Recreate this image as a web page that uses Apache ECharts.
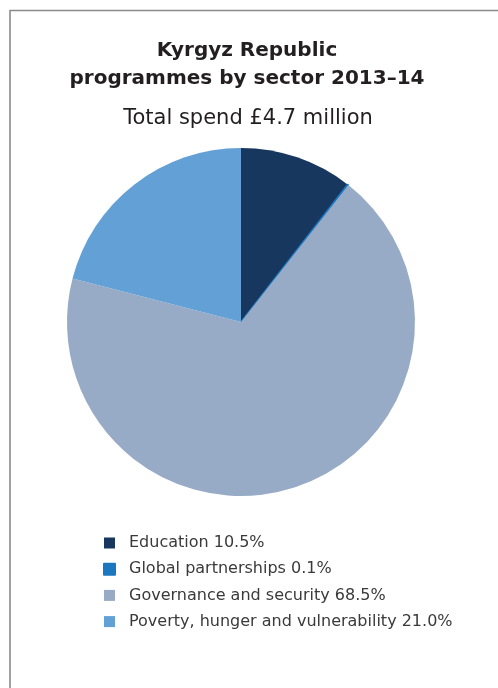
<!DOCTYPE html>
<html>
<head>
<meta charset="utf-8">
<style>
  html, body { margin: 0; padding: 0; background: #fff; }
  #chart { width: 498px; height: 688px; }
</style>
<script src="https://cdn.jsdelivr.net/npm/echarts@6/dist/echarts.min.js"></script>
</head>
<body>
<div id="chart"></div>
<script>
// Sector shares of spend (percent)
const sectors = ['Education', 'Global partnerships', 'Governance and security', 'Poverty, hunger and vulnerability'];
const shares = [10.5, 0.1, 68.5, 21.0];
const sectorColors = ['#17375e', '#1b78c0', '#98abc6', '#62a0d5'];

const titleText = 'Kyrgyz Republic\nprogrammes by sector 2013–14';
const subtitleText = 'Total spend £4.7 million';

const chart = echarts.init(document.getElementById('chart'));
const fontFamily = '"DejaVu Sans", "Liberation Sans", Arial, sans-serif';

chart.setOption({
  animation: false,
  color: sectorColors,
  title: [
    {
      text: titleText,
      left: 242,
      textAlign: 'center',
      top: 32,
      textStyle: { fontFamily, fontSize: 20, fontWeight: 'bold', color: '#231f20', lineHeight: 28 }
    },
    {
      text: subtitleText,
      left: 243,
      textAlign: 'center',
      top: 103,
      textStyle: { fontFamily, fontSize: 21, fontWeight: 'normal', color: '#231f20' }
    }
  ],
  legend: {
    orient: 'vertical',
    left: 98,
    top: 530,
    itemWidth: 11,
    itemHeight: 11,
    itemGap: 10.2,
    icon: 'rect',
    selectedMode: false,
    textStyle: { fontFamily, fontSize: 16, lineHeight: 16, color: '#3a3a3a', padding: [0, 0, 0, 9] },
    formatter: function (name) {
      const i = sectors.indexOf(name);
      return name + ' ' + shares[i].toFixed(1) + '%';
    }
  },
  graphic: [
    {
      type: 'polyline',
      silent: true,
      shape: { points: [[10, 688], [10, 10.5], [498, 10.5]] },
      style: { stroke: '#8a8a8a', lineWidth: 1.6, fill: null }
    }
  ],
  series: [
    {
      type: 'pie',
      center: [241, 322],
      radius: [0, 174],
      startAngle: 90,
      clockwise: true,
      label: { show: false },
      labelLine: { show: false },
      itemStyle: { borderWidth: 0 },
      emphasis: { disabled: true },
      data: sectors.map((name, i) => ({
        name,
        value: shares[i],
        // the thin slice gets an outline in its own colour so it stays visible
        itemStyle: i === 1 ? { borderColor: sectorColors[1], borderWidth: 1.5 } : undefined
      }))
    }
  ]
});
</script>
</body>
</html>
